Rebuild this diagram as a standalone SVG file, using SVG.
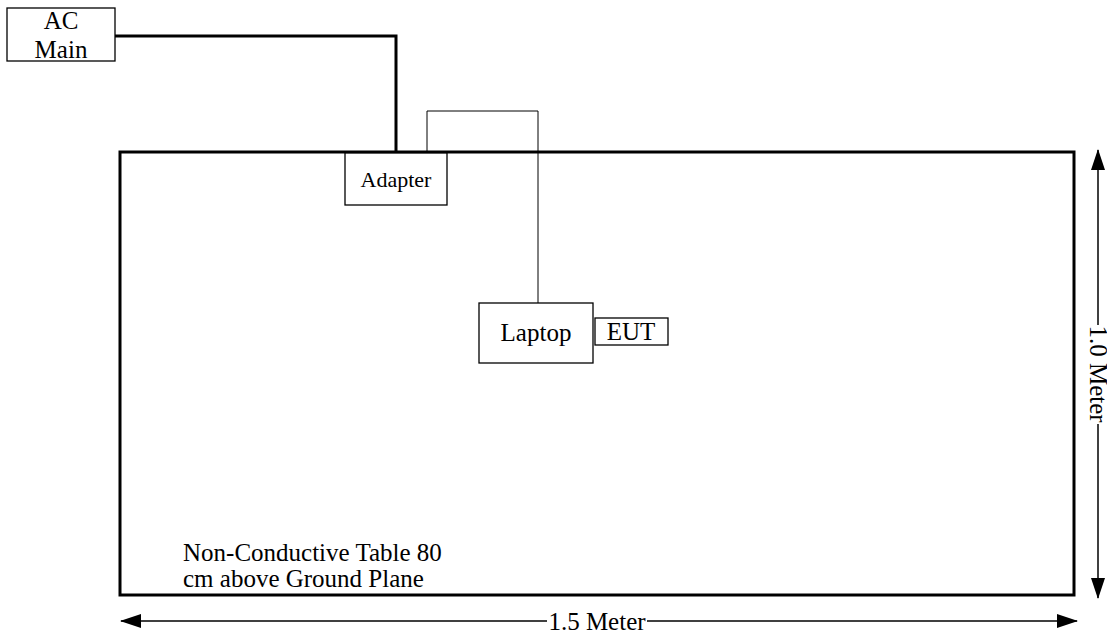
<svg xmlns="http://www.w3.org/2000/svg" width="1107" height="634" viewBox="0 0 1107 634">
<style>
.box{fill:#fff;stroke:#000;stroke-width:1.3}
.serif{font-family:"Liberation Serif","Times New Roman",serif;font-size:25px;fill:#000}
.small{font-size:22px}
.thick{fill:none;stroke:#000;stroke-width:3}
.thin{fill:none;stroke:#000;stroke-width:1}
.dim{fill:none;stroke:#000;stroke-width:1.5}
</style>
<defs>
<marker id="arr" markerWidth="21" markerHeight="14" refX="20" refY="7" orient="auto-start-reverse" markerUnits="userSpaceOnUse">
<path d="M0,0 L21,7 L0,14 Z" fill="#000"/>
</marker>
</defs>
<g id="table">
<rect x="120" y="152" width="954" height="443" class="thick"/>
<text class="serif" x="183" y="561">Non-Conductive Table 80</text>
<text class="serif" x="183" y="587">cm above Ground Plane</text>
</g>
<g id="connectors">
<polyline class="thick" points="115,36 396,36 396,153"/>
<polyline class="thin" points="427,152 427,111 538,111 538,303"/>
<line class="dim" x1="1098" y1="325" x2="1098" y2="150" marker-end="url(#arr)"/>
<line class="dim" x1="1098" y1="424" x2="1098" y2="598" marker-end="url(#arr)"/>
<line class="dim" x1="547" y1="621" x2="121" y2="621" marker-end="url(#arr)"/>
<line class="dim" x1="647" y1="621" x2="1077" y2="621" marker-end="url(#arr)"/>
</g>
<g id="ac-main">
<rect class="box" x="7" y="8" width="108" height="53"/>
<text class="serif" x="61" y="29" text-anchor="middle">AC</text>
<text class="serif" x="61" y="58" text-anchor="middle">Main</text>
</g>
<g id="adapter">
<rect class="box" x="345" y="153" width="102" height="52"/>
<text class="serif small" x="396" y="187" text-anchor="middle">Adapter</text>
</g>
<g id="laptop">
<rect class="box" x="479" y="303" width="114" height="60"/>
<text class="serif" x="536" y="341" text-anchor="middle">Laptop</text>
</g>
<g id="eut">
<rect class="box" x="595" y="318" width="73" height="27"/>
<text class="serif" x="631" y="340" text-anchor="middle">EUT</text>
</g>
<g id="dim-labels">
<text class="serif" x="0" y="0" text-anchor="middle" transform="translate(1090,374) rotate(90)">1.0 Meter</text>
<text class="serif" x="597" y="630" text-anchor="middle">1.5 Meter</text>
</g>
</svg>
